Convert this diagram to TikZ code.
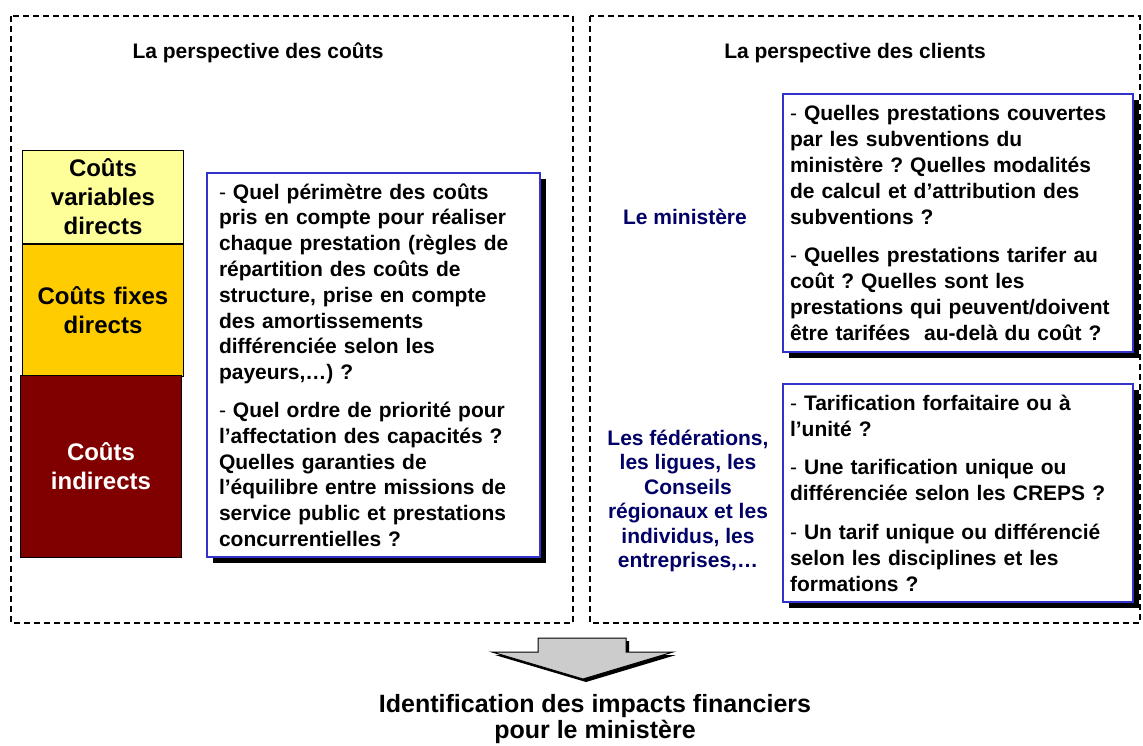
\documentclass[tikz,border=0pt]{standalone}
\usepackage{fontspec}
\setmainfont{Liberation Sans}
\usetikzlibrary{shadows}
\definecolor{boxblue}{RGB}{51,51,204}
\definecolor{navy}{RGB}{0,0,102}
\definecolor{cyellow}{RGB}{255,255,153}
\definecolor{corange}{RGB}{255,204,0}
\definecolor{cred}{RGB}{128,0,0}
\definecolor{agray}{RGB}{204,204,204}
\newcommand{\bodyfont}{\fontsize{21}{25.8}\selectfont\bfseries}
\newcommand{\hy}{{\mdseries -} }
\frenchspacing
\begin{document}
\begin{tikzpicture}[x=1pt,y=-1pt,
  frame/.style={draw=black, line width=2pt, dash pattern=on 6pt off 4pt},
  title/.style={font=\fontsize{21}{26}\selectfont\bfseries, align=center},
  stk/.style={draw=black, line width=1pt, minimum width=161pt, text width=150pt, align=center, inner sep=0pt, font=\fontsize{24}{29}\selectfont\bfseries},
  qbox/.style={draw=boxblue, line width=1.5pt, fill=white, align=left, inner sep=0pt, font=\bodyfont,
    drop shadow={shadow xshift=6pt, shadow yshift=-6pt, fill=black, opacity=1}},
  who/.style={text=navy, align=center, font=\bodyfont},
  arrowshape/.style={draw=black, line width=1pt, fill=agray},
]
\useasboundingbox (0,0) rectangle (1143,745);

% dashed frames
\draw[frame] (11,16) rectangle (573,623);
\draw[frame] (590,16) rectangle (1140,623);

% titles
\node[title] (tcouts) at (258,53) {La perspective des coûts};
\node[title] (tclients) at (855,53) {La perspective des clients};

% cost stack
\node[stk, fill=cyellow, minimum height=93pt, anchor=north west] (cvd) at (22,150) {Coûts\\variables\\directs};
\node[stk, fill=corange, minimum height=132pt, anchor=north] (cfd) at (cvd.south) {Coûts fixes\\directs};
\node[stk, fill=cred, text=white, minimum height=182pt, anchor=north west] (ci) at (20,375) {Coûts\\indirects};

% left questions
\node[qbox, minimum width=333pt, minimum height=384pt, text width=309pt] (qcouts) at (373.5,365)
{\hy Quel périmètre des coûts\\
pris en compte pour réaliser\\
chaque prestation (règles de\\
répartition des coûts de\\
structure, prise en compte\\
des amortissements\\
différenciée selon les\\
payeurs,…) ?\\[12pt]
\hy Quel ordre de priorité pour\\
l’affectation des capacités ?\\
Quelles garanties de\\
l’équilibre entre missions de\\
service public et prestations\\
concurrentielles ?};

% right side
\node[who] (min) at (685,217) {Le ministère};
\node[qbox, minimum width=350pt, minimum height=258pt, text width=336pt] (qmin) at (958,223)
{\hy Quelles prestations couvertes\\
par les subventions du\\
ministère ? Quelles modalités\\
de calcul et d’attribution des\\
subventions ?\\[13pt]
\hy Quelles prestations tarifer au\\
coût ? Quelles sont les\\
prestations qui peuvent/doivent\\
être tarifées~ au-delà du coût ?};

\node[who, font=\fontsize{21}{24.5}\selectfont\bfseries] (fed) at (688,501)
{Les fédérations,\\les ligues, les\\Conseils\\régionaux et les\\individus, les\\entreprises,…};
\node[qbox, minimum width=350pt, minimum height=218pt, text width=336pt] (qfed) at (958,493)
{\hy Tarification forfaitaire ou à\\
l’unité ?\\[13pt]
\hy Une tarification unique ou\\
différenciée selon les CREPS ?\\[13pt]
\hy Un tarif unique ou différencié\\
selon les disciplines et les\\
formations ?};

% arrow
\fill[black, shift={(3,3)}] (538,638) -- (626,638) -- (626,652) -- (673,652) -- (583,679) -- (492,652) -- (538,652) -- cycle;
\draw[arrowshape] (538,638) -- (626,638) -- (626,652) -- (673,652) -- (583,679) -- (492,652) -- (538,652) -- cycle;

% result
\node[title, font=\fontsize{25}{26}\selectfont\bfseries] (res) at (595,719) {Identification des impacts financiers\\pour le ministère};
\end{tikzpicture}
\end{document}
